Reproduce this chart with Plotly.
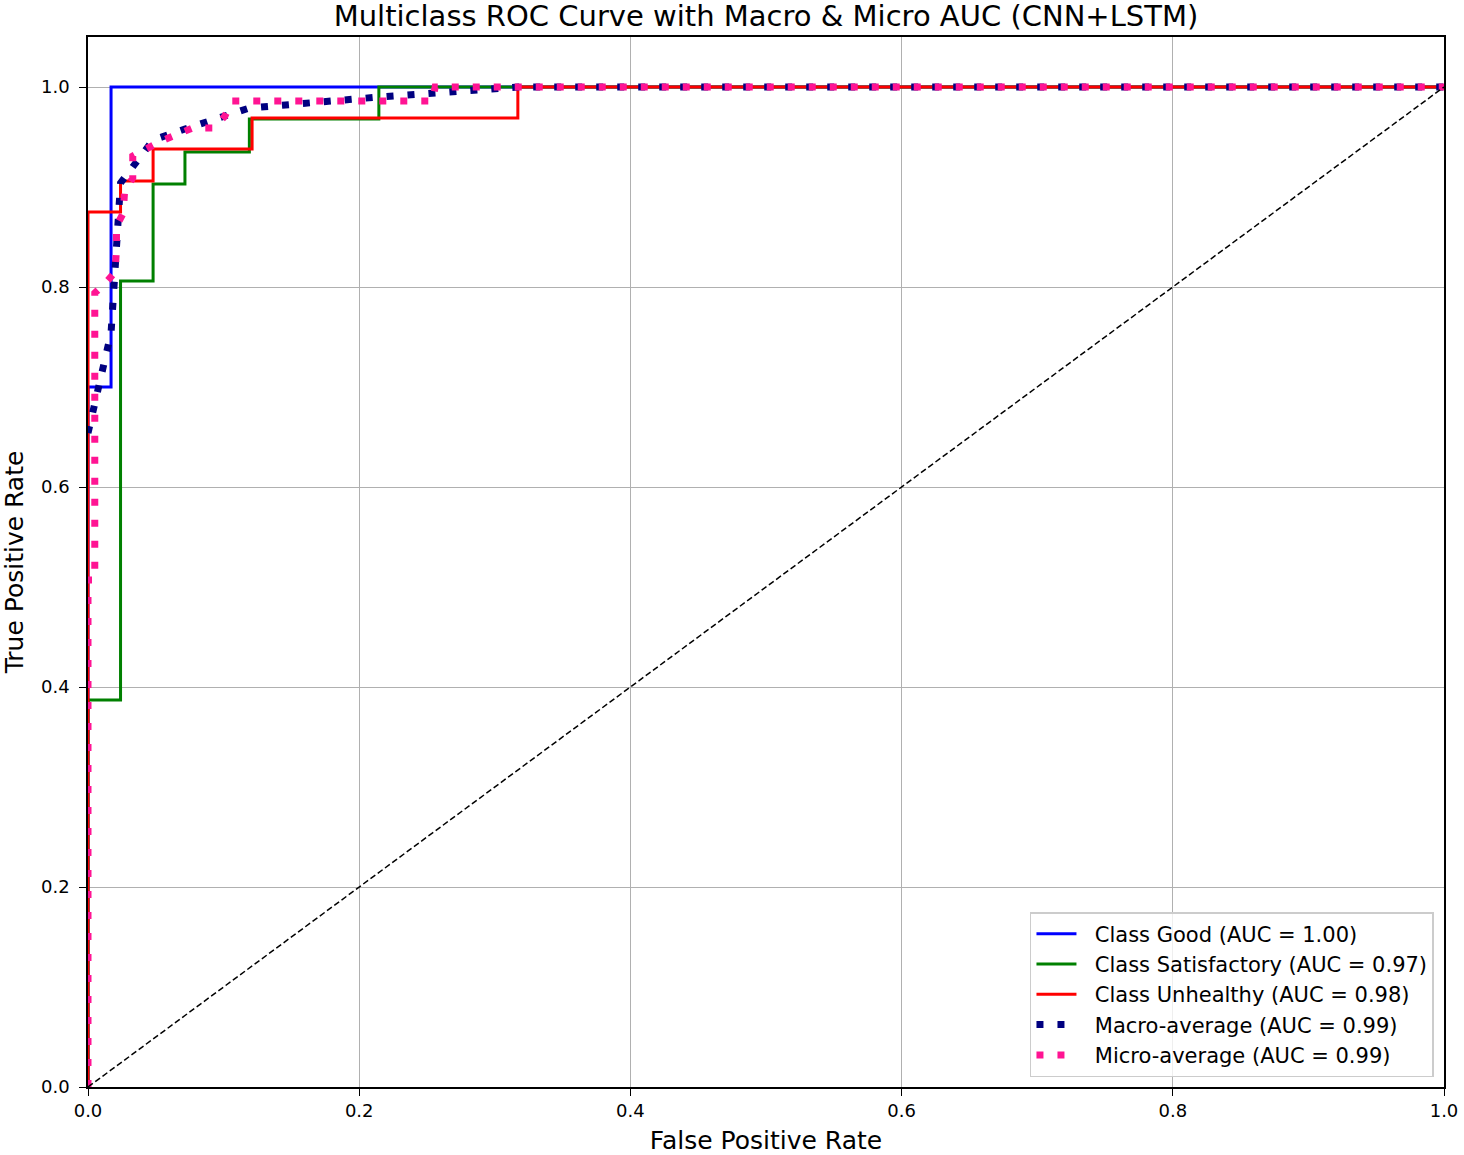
import plotly.graph_objects as go

# ---- data ----
good_fpr = [0.0, 0.0, 0.017, 0.017, 1.0]
good_tpr = [0.0, 0.70, 0.70, 1.0, 1.0]

sat_fpr = [0.0, 0.0, 0.024, 0.024, 0.048, 0.048, 0.0715, 0.0715, 0.119, 0.119, 0.2145, 0.2145, 1.0]
sat_tpr = [0.0, 0.387, 0.387, 0.806, 0.806, 0.903, 0.903, 0.935, 0.935, 0.968, 0.968, 1.0, 1.0]

unh_fpr = [0.0, 0.0, 0.024, 0.024, 0.048, 0.048, 0.121, 0.121, 0.317, 0.317, 1.0]
unh_tpr = [0.0, 0.875, 0.875, 0.906, 0.906, 0.938, 0.938, 0.969, 0.969, 1.0, 1.0]

macro_fpr = [0.0, 0.017, 0.024, 0.048, 0.0715, 0.119, 0.2145, 0.317, 1.0]
macro_tpr = [0.654, 0.754, 0.904, 0.947, 0.958, 0.979, 0.990, 1.0, 1.0]

micro_fpr = [0.0, 0.0, 0.005, 0.005, 0.013, 0.020, 0.021, 0.021, 0.026, 0.027, 0.033, 0.033,
             0.054, 0.077, 0.093, 0.101, 0.106, 0.254, 0.256, 1.0]
micro_tpr = [0.0, 0.507, 0.507, 0.794, 0.804, 0.815, 0.838, 0.861, 0.874, 0.896, 0.909, 0.931,
             0.946, 0.959, 0.959, 0.971, 0.986, 0.986, 1.0, 1.0]

diag = [0.0, 1.0]

labels = ["Class Good (AUC = 1.00)", "Class Satisfactory (AUC = 0.97)",
          "Class Unhealthy (AUC = 0.98)", "Macro-average (AUC = 0.99)",
          "Micro-average (AUC = 0.99)"]

ticks = [0.0, 0.2, 0.4, 0.6, 0.8, 1.0]
tick_text = ["0.0", "0.2", "0.4", "0.6", "0.8", "1.0"]

FONT = "DejaVu Sans"

W, H = 1464, 1155

fig = go.Figure()
fig.add_trace(go.Scatter(x=good_fpr, y=good_tpr, mode="lines", name="  " + labels[0],
                         line=dict(color="#0000ff", width=3)))
fig.add_trace(go.Scatter(x=sat_fpr, y=sat_tpr, mode="lines", name="  " + labels[1],
                         line=dict(color="#008000", width=3)))
fig.add_trace(go.Scatter(x=unh_fpr, y=unh_tpr, mode="lines", name="  " + labels[2],
                         line=dict(color="#ff0000", width=3)))
fig.add_trace(go.Scatter(x=macro_fpr, y=macro_tpr, mode="lines", name="  " + labels[3],
                         line=dict(color="#000080", width=7, dash="7px,14px")))
fig.add_trace(go.Scatter(x=micro_fpr, y=micro_tpr, mode="lines", name="  " + labels[4],
                         line=dict(color="#ff1493", width=7, dash="7px,14px")))
fig.add_trace(go.Scatter(x=diag, y=diag, mode="lines", showlegend=False,
                         line=dict(color="black", width=1.5, dash="6px,3px")))

axis_common = dict(
    showline=True, linecolor="black", linewidth=1.5, mirror=True,
    showgrid=True, gridcolor="#b0b0b0", gridwidth=1,
    ticks="outside", ticklen=7, tickcolor="black", tickwidth=1.2,
    tickvals=ticks, ticktext=tick_text, zeroline=False, automargin=False,
    tickfont=dict(family=FONT, size=18, color="black"),
)

fig.update_layout(
    width=W, height=H,
    margin=dict(l=88, r=20, t=37, b=68),
    paper_bgcolor="white", plot_bgcolor="white",
    font=dict(family=FONT, color="black"),
    title=dict(text="Multiclass ROC Curve with Macro & Micro AUC (CNN+LSTM)",
               x=766 / W, xanchor="center", y=1 - 16 / H, yanchor="middle",
               font=dict(family=FONT, size=29, color="black")),
    xaxis=dict(range=[0, 1.0], title=dict(text="False Positive Rate", standoff=12,
               font=dict(family=FONT, size=25, color="black")), **axis_common),
    yaxis=dict(range=[0, 1.05], ticklabelstandoff=6,
               title=dict(text="True Positive Rate", standoff=17,
               font=dict(family=FONT, size=25, color="black")), **axis_common),
    legend=dict(x=0.9926, y=0.0095, xanchor="right", yanchor="bottom",
                bgcolor="rgba(255,255,255,0.8)", bordercolor="#cccccc", borderwidth=1.5,
                font=dict(family=FONT, size=21, color="black"),
                tracegroupgap=0, itemwidth=40),
    showlegend=True,
)

# remove the browser's default body margin so the figure sits at the page origin
fig.write_html("out.html", config={"displayModeBar": False},
               post_script="document.body.style.margin='0';document.body.style.padding='0';")
